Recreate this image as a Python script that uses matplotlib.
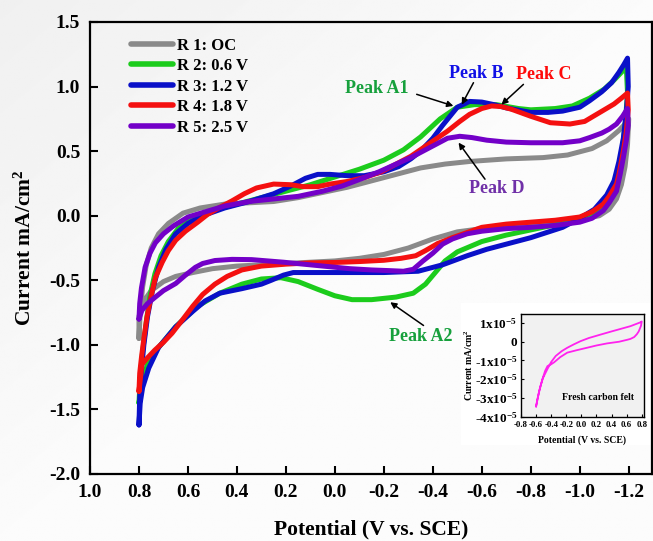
import numpy as np
import matplotlib
matplotlib.use("Agg")
import matplotlib.pyplot as plt
from matplotlib.patches import Rectangle

plt.rcParams["font.family"] = ["Liberation Serif", "DejaVu Serif"]
plt.rcParams["font.weight"] = "bold"
plt.rcParams["mathtext.fontset"] = "custom"
plt.rcParams["mathtext.rm"] = "Liberation Serif:bold"
plt.rcParams["mathtext.bf"] = "Liberation Serif:bold"
plt.rcParams["mathtext.it"] = "Liberation Serif:bold"
plt.rcParams["mathtext.default"] = "bf"
plt.rcParams["axes.unicode_minus"] = False

# ---- CV data (potential V vs SCE, current mA/cm2) ----
# each loop: anodic branch 0.8 -> -1.2, then cathodic branch back to 0.8
E_r1 = [0.80, 0.795, 0.785, 0.77, 0.75, 0.72, 0.68, 0.62, 0.55, 0.45, 0.35, 0.25, 0.15, 0.05,
        -0.05, -0.15, -0.25, -0.35, -0.45, -0.55, -0.70, -0.85, -0.95, -1.05, -1.11, -1.16, -1.19, -1.20,
        -1.195, -1.185, -1.17, -1.15, -1.12, -1.08, -1.00, -0.90, -0.80, -0.70, -0.60, -0.50, -0.40,
        -0.30, -0.20, -0.10, 0.00, 0.10, 0.20, 0.30, 0.40, 0.50, 0.58, 0.65, 0.70, 0.75, 0.78, 0.80, 0.80]
I_r1 = [-0.95, -0.75, -0.55, -0.38, -0.25, -0.14, -0.06, 0.02, 0.06, 0.09, 0.10, 0.11, 0.14, 0.18,
        0.22, 0.27, 0.32, 0.37, 0.40, 0.42, 0.44, 0.45, 0.47, 0.52, 0.58, 0.66, 0.72, 0.75,
        0.55, 0.38, 0.24, 0.13, 0.05, 0.00, -0.03, -0.05, -0.065, -0.08, -0.10, -0.125, -0.18,
        -0.25, -0.30, -0.33, -0.35, -0.36, -0.37, -0.38, -0.39, -0.41, -0.44, -0.47, -0.51, -0.58, -0.66, -0.78, -0.95]

E_r2 = [0.80, 0.795, 0.785, 0.77, 0.755, 0.735, 0.71, 0.68, 0.64, 0.58, 0.50, 0.40, 0.30, 0.20, 0.10,
        0.00, -0.10, -0.20, -0.28, -0.35, -0.43, -0.50, -0.57, -0.66, -0.75, -0.80, -0.90, -0.97, -1.04,
        -1.10, -1.14, -1.175, -1.19,
        -1.195, -1.185, -1.17, -1.15, -1.12, -1.08, -1.00, -0.90, -0.80, -0.70, -0.60, -0.50, -0.45,
        -0.41, -0.37, -0.32, -0.25, -0.15, -0.07, 0.00, 0.07, 0.15, 0.22, 0.30, 0.38, 0.47, 0.56, 0.65,
        0.72, 0.76, 0.785, 0.80]
I_r2 = [-1.45, -1.25, -1.05, -0.82, -0.62, -0.45, -0.31, -0.20, -0.10, -0.02, 0.04, 0.09, 0.14, 0.19, 0.24,
        0.30, 0.36, 0.43, 0.51, 0.61, 0.75, 0.84, 0.86, 0.86, 0.83, 0.82, 0.83, 0.85, 0.91,
        0.98, 1.05, 1.12, 1.15,
        0.95, 0.70, 0.45, 0.27, 0.12, 0.03, -0.03, -0.07, -0.11, -0.15, -0.20, -0.28, -0.35,
        -0.44, -0.53, -0.60, -0.63, -0.65, -0.65, -0.62, -0.57, -0.51, -0.48, -0.49, -0.53, -0.60, -0.70, -0.86,
        -1.02, -1.12, -1.28, -1.45]

E_r3 = [0.80, 0.797, 0.79, 0.78, 0.765, 0.745, 0.72, 0.69, 0.65, 0.60, 0.54, 0.45, 0.35, 0.25, 0.18,
        0.12, 0.07, 0.02, -0.05, -0.12, -0.20, -0.26, -0.31, -0.35, -0.40, -0.44, -0.50, -0.55, -0.60,
        -0.65, -0.70, -0.80, -0.87, -0.93, -1.00, -1.04, -1.09, -1.13, -1.16, -1.18, -1.195,
        -1.198, -1.19, -1.178, -1.16, -1.14, -1.11, -1.06, -1.00, -0.93, -0.80, -0.70, -0.62, -0.54,
        -0.44, -0.34, -0.20, -0.06, 0.07, 0.17, 0.21, 0.26, 0.30, 0.38, 0.47, 0.53, 0.58, 0.65, 0.72,
        0.76, 0.785, 0.795, 0.80]
I_r3 = [-1.62, -1.40, -1.20, -1.00, -0.78, -0.58, -0.40, -0.26, -0.14, -0.06, 0.00, 0.06, 0.11, 0.17, 0.23,
        0.29, 0.32, 0.32, 0.31, 0.31, 0.34, 0.38, 0.44, 0.50, 0.60, 0.70, 0.84, 0.885, 0.88,
        0.86, 0.835, 0.80, 0.80, 0.81, 0.84, 0.89, 0.96, 1.03, 1.11, 1.17, 1.22,
        1.00, 0.80, 0.60, 0.42, 0.27, 0.16, 0.05, -0.02, -0.09, -0.17, -0.22, -0.26, -0.31,
        -0.38, -0.43, -0.44, -0.44, -0.44, -0.44, -0.46, -0.50, -0.53, -0.565, -0.60, -0.66, -0.74, -0.86, -1.02,
        -1.18, -1.33, -1.45, -1.62]

E_r4 = [0.80, 0.797, 0.79, 0.78, 0.767, 0.75, 0.733, 0.705, 0.68, 0.65, 0.61, 0.56, 0.52, 0.47, 0.42,
        0.37, 0.32, 0.25, 0.18, 0.13, 0.07, 0.02, -0.05, -0.12, -0.19, -0.25, -0.31, -0.36, -0.41,
        -0.46, -0.51, -0.55, -0.60, -0.64, -0.68, -0.72, -0.80, -0.88, -0.96, -1.02, -1.06, -1.10,
        -1.14, -1.17, -1.195,
        -1.198, -1.19, -1.178, -1.16, -1.15, -1.12, -1.096, -1.05, -1.00, -0.90, -0.80, -0.70, -0.60,
        -0.54, -0.48, -0.42, -0.37, -0.33, -0.27, -0.20, -0.10, 0.00, 0.10, 0.20, 0.30, 0.38, 0.44,
        0.49, 0.54, 0.58, 0.62, 0.665, 0.70, 0.735, 0.765, 0.788, 0.80]
I_r4 = [-1.36, -1.22, -1.10, -0.95, -0.78, -0.62, -0.48, -0.36, -0.27, -0.19, -0.12, -0.05, 0.01, 0.065, 0.115,
        0.17, 0.215, 0.245, 0.24, 0.225, 0.225, 0.245, 0.265, 0.295, 0.34, 0.40, 0.46, 0.525, 0.59,
        0.655, 0.73, 0.785, 0.83, 0.85, 0.845, 0.825, 0.77, 0.72, 0.71, 0.73, 0.775, 0.82,
        0.865, 0.91, 0.95,
        0.82, 0.65, 0.50, 0.32, 0.245, 0.15, 0.09, 0.03, -0.01, -0.035, -0.05, -0.065, -0.09,
        -0.13, -0.17, -0.215, -0.27, -0.31, -0.33, -0.345, -0.355, -0.362, -0.365, -0.375, -0.39, -0.42, -0.47,
        -0.53, -0.61, -0.70, -0.80, -0.91, -0.98, -1.04, -1.10, -1.15, -1.36]

E_r5 = [0.80, 0.797, 0.79, 0.775, 0.755, 0.733, 0.70, 0.66, 0.60, 0.53, 0.45, 0.35, 0.25, 0.15, 0.05,
        -0.03, -0.10, -0.18, -0.25, -0.31, -0.36, -0.41, -0.46, -0.51, -0.56, -0.62, -0.70, -0.80,
        -0.93, -1.00, -1.04, -1.09, -1.12, -1.15, -1.175, -1.195,
        -1.198, -1.19, -1.178, -1.165, -1.15, -1.12, -1.096, -1.05, -1.00, -0.90, -0.80, -0.70, -0.60,
        -0.54, -0.48, -0.44, -0.40, -0.36, -0.32, -0.28, -0.22, -0.15, -0.06, 0.07, 0.21, 0.34, 0.42,
        0.49, 0.54, 0.57, 0.61, 0.65, 0.70, 0.733, 0.765, 0.788, 0.80]
I_r5 = [-0.80, -0.68, -0.56, -0.40, -0.29, -0.21, -0.14, -0.08, -0.01, 0.03, 0.075, 0.11, 0.13, 0.15, 0.19,
        0.23, 0.28, 0.34, 0.40, 0.45, 0.50, 0.55, 0.60, 0.615, 0.605, 0.585, 0.57, 0.565,
        0.565, 0.58, 0.605, 0.64, 0.67, 0.71, 0.77, 0.83,
        0.70, 0.58, 0.45, 0.32, 0.19, 0.10, 0.04, -0.02, -0.05, -0.075, -0.09, -0.10, -0.12,
        -0.14, -0.18, -0.22, -0.29, -0.35, -0.415, -0.43, -0.425, -0.42, -0.41, -0.386, -0.36, -0.34, -0.338,
        -0.347, -0.37, -0.40, -0.46, -0.525, -0.58, -0.63, -0.68, -0.733, -0.80]

labels = ["R 1: OC", "R 2: 0.6 V", "R 3: 1.2 V", "R 4: 1.8 V", "R 5: 2.5 V"]
colors = ["#8a8a8a", "#1ccc1c", "#0a10c8", "#f41010", "#7300c8"]
series = [(E_r1, I_r1), (E_r2, I_r2), (E_r3, I_r3), (E_r4, I_r4), (E_r5, I_r5)]

# inset: fresh carbon felt (current in mA/cm2)
E_fresh = [-0.60, -0.58, -0.56, -0.537, -0.51, -0.48, -0.449, -0.40, -0.34, -0.26, -0.186, -0.10,
           -0.011, 0.10, 0.253, 0.40, 0.516, 0.65, 0.779, 0.80,
           0.79, 0.76, 0.735, 0.70, 0.65, 0.603, 0.50, 0.339, 0.20, 0.076, -0.06, -0.186, -0.28,
           -0.362, -0.40, -0.449, -0.48, -0.515, -0.55, -0.581, -0.60]
I_fresh = [-3.45e-5, -3.05e-5, -2.65e-5, -2.30e-5, -1.95e-5, -1.70e-5, -1.45e-5, -1.08e-5, -0.76e-5,
           -0.50e-5, -0.32e-5, -0.14e-5, 0.03e-5, 0.20e-5, 0.38e-5, 0.55e-5, 0.68e-5, 0.83e-5, 1.03e-5, 1.08e-5,
           0.85e-5, 0.55e-5, 0.40e-5, 0.25e-5, 0.15e-5, 0.10e-5, 0.0, -0.09e-5, -0.20e-5, -0.32e-5, -0.45e-5,
           -0.58e-5, -0.82e-5, -1.10e-5, -1.20e-5, -1.30e-5, -1.55e-5, -1.98e-5, -2.50e-5, -3.04e-5, -3.45e-5]

x_ticks = [1.0, 0.8, 0.6, 0.4, 0.2, 0.0, -0.2, -0.4, -0.6, -0.8, -1.0, -1.2]
y_ticks = [1.5, 1.0, 0.5, 0.0, -0.5, -1.0, -1.5, -2.0]
inset_xticks = [-0.8, -0.6, -0.4, -0.2, 0.0, 0.2, 0.4, 0.6, 0.8]
inset_yticks = [1e-5, 0, -1e-5, -2e-5, -3e-5, -4e-5]
inset_ylabels = ["1x10$^{-5}$", "0", "-1x10$^{-5}$", "-2x10$^{-5}$", "-3x10$^{-5}$", "-4x10$^{-5}$"]

# peak labels: text, colour, text position, arrow tail, arrow head
peaks = [
    ("Peak A1", "#16a03c", (-0.17, 0.985), (-0.334, 0.94), (-0.484, 0.85)),
    ("Peak B", "#1010e6", (-0.577, 1.105), (-0.566, 1.03), (-0.518, 0.86)),
    ("Peak C", "#ff0a0a", (-0.851, 1.09), (-0.77, 1.017), (-0.68, 0.86)),
    ("Peak D", "#7030a8", (-0.661, 0.214), (-0.613, 0.283), (-0.505, 0.566)),
    ("Peak A2", "#16a03c", (-0.351, -0.935), (-0.362, -0.85), (-0.226, -0.67)),
]

fig = plt.figure(figsize=(6.53, 5.41), dpi=100, facecolor="#f7f7f7")

# soft diagonal grey background
bg = fig.add_axes([0, 0, 1, 1], zorder=-10)
xx, yy = np.meshgrid(np.linspace(0, 1, 300), np.linspace(0, 1, 300))
shade = 0.94 + 0.045 * np.clip((xx + yy) / 1.0, 0, 1)
bg.imshow(shade, extent=[0, 1, 0, 1], aspect="auto", cmap="gray", vmin=0, vmax=1)
bg.axis("off")

fig.add_artist(Rectangle((461 / 653, 1 - 445 / 541), 192 / 653, 142 / 541,
                         transform=fig.transFigure, facecolor="white", edgecolor="none", zorder=-5))

ax = fig.add_axes([90 / 653, 1 - 474 / 541, 562 / 653, 452 / 541])
ax.set_facecolor("none")
for (E, I), c, lab in zip(series, colors, labels):
    ax.plot(E, I, color=c, lw=3.6, label=lab, solid_capstyle="round", solid_joinstyle="round")

ax.set_xlim(1.0, -1.295)
ax.set_ylim(-2.0, 1.5)
ax.set_xticks(x_ticks)
ax.set_xticklabels([f"{v:.1f}" for v in x_ticks])
ax.set_yticks(y_ticks)
ax.set_yticklabels([f"{v:.1f}" for v in y_ticks])
ax.tick_params(direction="in", length=6, width=1.5, labelsize=14, pad=7)
for s in ax.spines.values():
    s.set_linewidth(1.6)
ax.set_xlabel("Potential (V vs. SCE)", fontsize=15.5, fontweight="bold")
ax.set_ylabel("Current mA/cm$^2$", fontsize=15.5, fontweight="bold")
ax.xaxis.set_label_coords(0.5, -0.1)
ax.yaxis.set_label_coords(-0.097, 0.5)

leg = ax.legend(loc="upper left", bbox_to_anchor=(0.073, 0.9656), frameon=False, fontsize=12,
                handlelength=2.5, handletextpad=0.25, labelspacing=0.27, borderpad=0, borderaxespad=0)
for h in leg.get_lines():
    h.set_linewidth(4)

for txt, c, tpos, tail, head in peaks:
    ax.text(tpos[0], tpos[1], txt, color=c, fontsize=13, fontweight="bold", ha="center", va="center")
    ax.annotate("", xy=head, xytext=tail,
                arrowprops=dict(arrowstyle="-|>", color="black", lw=1.1, shrinkA=0, shrinkB=0,
                                mutation_scale=9))

# inset
axi = fig.add_axes([521 / 653, 1 - 416.7 / 541, 123 / 653, 102.7 / 541])
axi.set_facecolor("#f1f1f1")
axi.plot(E_fresh, I_fresh, color="#ff22ee", lw=1.3)
axi.set_xlim(-0.8, 0.83)
axi.set_ylim(-4e-5, 1.48e-5)
axi.set_xticks(inset_xticks)
axi.set_xticklabels([f"{v:.1f}" for v in inset_xticks], fontsize=6.3)
axi.set_yticks(inset_yticks)
axi.set_yticklabels(inset_ylabels, fontsize=9.5)
axi.tick_params(direction="in", length=2, width=0.8)
axi.tick_params(axis="x", pad=3)
axi.tick_params(axis="y", pad=2.5)
for s in axi.spines.values():
    s.set_linewidth(1.0)
axi.set_xlabel("Potential (V vs. SCE)", fontsize=7, fontweight="bold")
axi.set_ylabel("Current mA/cm$^2$", fontsize=7, fontweight="bold")
axi.xaxis.set_label_coords(0.5, -0.18)
axi.yaxis.set_label_coords(-0.37, 0.5)
axi.text(0.217, -3.0e-5, "Fresh carbon felt", fontsize=7, fontweight="bold", ha="center", va="center")

fig.savefig("out.png", dpi=100, facecolor=fig.get_facecolor())
